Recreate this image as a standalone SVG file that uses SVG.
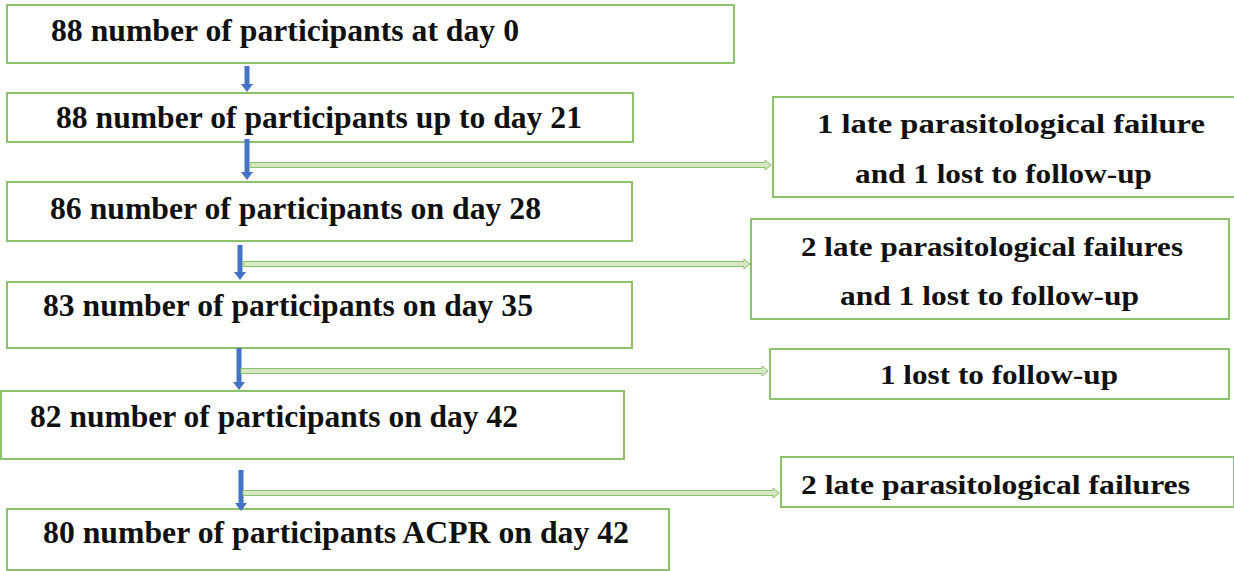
<svg xmlns="http://www.w3.org/2000/svg" width="1234" height="571" viewBox="0 0 1234 571">
<defs>
<style>
.box{fill:#fff;stroke:#8DC16B;stroke-width:2}
.blue{fill:#4472C4}
.dbl{fill:#D3E8C3;stroke:#8DC16B;stroke-width:1}
</style>
</defs>
<rect width="1234" height="571" fill="#fff"/>
<g font-family="Liberation Serif, serif" font-weight="bold" fill="#111">
<g id="n1" font-size="31"><rect class="box" x="7" y="5" width="727" height="58"/><text x="51" y="41" textLength="468" lengthAdjust="spacingAndGlyphs">88 number of participants at day 0</text></g>
<g id="n2" font-size="31"><rect class="box" x="7" y="93" width="626" height="49"/><text x="56" y="128" textLength="526" lengthAdjust="spacingAndGlyphs">88 number of participants up to day 21</text></g>
<g id="n3" font-size="31"><rect class="box" x="7" y="182" width="625" height="59"/><text x="50" y="219" textLength="491" lengthAdjust="spacingAndGlyphs">86 number of participants on day 28</text></g>
<g id="n4" font-size="31"><rect class="box" x="7" y="282" width="625" height="66"/><text x="43" y="316" textLength="490" lengthAdjust="spacingAndGlyphs">83 number of participants on day 35</text></g>
<g id="n5" font-size="31"><rect class="box" x="1" y="391" width="623" height="68"/><text x="30" y="427" textLength="488" lengthAdjust="spacingAndGlyphs">82 number of participants on day 42</text></g>
<g id="n6" font-size="31"><rect class="box" x="7" y="509" width="662" height="61"/><text x="43" y="543" textLength="586" lengthAdjust="spacingAndGlyphs">80 number of participants ACPR on day 42</text></g>
<g id="e1" font-size="27"><rect class="box" x="773" y="97" width="462" height="100"/><text x="817" y="133" textLength="388" lengthAdjust="spacingAndGlyphs">1 late parasitological failure</text><text x="855" y="183" textLength="297" lengthAdjust="spacingAndGlyphs">and 1 lost to follow-up</text></g>
<g id="e2" font-size="27"><rect class="box" x="751" y="219" width="478" height="100"/><text x="801" y="256" textLength="382" lengthAdjust="spacingAndGlyphs">2 late parasitological failures</text><text x="840" y="305" textLength="299" lengthAdjust="spacingAndGlyphs">and 1 lost to follow-up</text></g>
<g id="e3" font-size="27"><rect class="box" x="770" y="349" width="459" height="50"/><text x="880" y="384" textLength="238" lengthAdjust="spacingAndGlyphs">1 lost to follow-up</text></g>
<g id="e4" font-size="27"><rect class="box" x="781" y="457" width="453" height="50"/><text x="801" y="494" textLength="389" lengthAdjust="spacingAndGlyphs">2 late parasitological failures</text></g>
</g>
<g id="connectors">
<path class="blue" d="M244.5 66h5v18h3.5l-6 8l-6-8h3.5z"/>
<path class="blue" d="M244.5 139h5v33h3.5l-6 8l-6-8h3.5z"/>
<path class="blue" d="M237.5 245h5v27h3.5l-6 8l-6-8h3.5z"/>
<path class="blue" d="M236.5 348h5v34h3.5l-6 8l-6-8h3.5z"/>
<path class="blue" d="M238.5 470h5v33h3.5l-6 8l-6-8h3.5z"/>
<path class="dbl" d="M250 162.5H765V160L771 165L765 170V167.5H250Z"/>
<path class="dbl" d="M243 261.5H744V259L750 264L744 269V266.5H243Z"/>
<path class="dbl" d="M241 368.5H762V366L768 371L762 376V373.5H241Z"/>
<path class="dbl" d="M243 490.5H773V488L779 493L773 498V495.5H243Z"/>
</g>
</svg>
